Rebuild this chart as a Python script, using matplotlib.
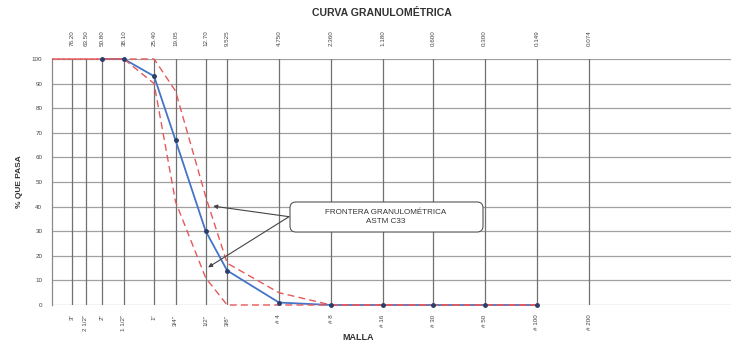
import matplotlib
matplotlib.use("Agg")
import matplotlib.pyplot as plt
from matplotlib.patches import FancyBboxPatch
from matplotlib.transforms import IdentityTransform
import numpy as np

plt.rcParams['font.family'] = ['Liberation Sans', 'DejaVu Sans']

# Sieve openings (mm) and their designations
sieve_mm = [76.20, 63.50, 50.80, 38.10, 25.40, 19.05, 12.70, 9.525,
            4.750, 2.360, 1.180, 0.600, 0.300, 0.149, 0.074]
sieve_mm_labels = ["76.20", "63.50", "50.80", "38.10", "25.40", "19.05", "12.70", "9.525",
                   "4.750", "2.360", "1.180", "0.600", "0.300", "0.149", "0.074"]
sieve_names = ['3"', '2 1/2"', '2"', '1 1/2"', '1"', '3/4"', '1/2"', '3/8"',
               '# 4', '# 8', '# 16', '# 30', '# 50', '# 100', '# 200']

# Measured gradation (% passing)
sample_mm = [50.80, 38.10, 25.40, 19.05, 12.70, 9.525, 4.750, 2.360, 1.180, 0.600, 0.300, 0.149]
sample_pass = [100, 100, 93, 67, 30, 14, 1, 0, 0, 0, 0, 0]

# ASTM C33 gradation envelope
upper_mm = [100.0, 38.10, 25.40, 19.05, 12.70, 9.525, 4.750, 2.360, 1.180, 0.600, 0.300, 0.149]
upper_pass = [100, 100, 100, 87, 44, 17, 5, 0, 0, 0, 0, 0]
lower_mm = [100.0, 50.80, 38.10, 25.40, 19.05, 12.70, 9.525, 4.750, 2.360, 1.180, 0.600, 0.300, 0.149]
lower_pass = [100, 100, 100, 90, 42, 11, 0, 0, 0, 0, 0, 0, 0]

y_ticks = list(range(0, 101, 10))

W, H = 731, 342
fig = plt.figure(figsize=(W / 100, H / 100), dpi=100)
ax = fig.add_axes([52 / W, 37 / H, 679 / W, 246 / H])

ax.set_xscale('log')
ax.set_xlim(100, 0.011)
ax.set_ylim(0, 100)

# grid
for y in y_ticks:
    ax.axhline(y, color='#a0a0a0', lw=0.9, zorder=1)
for s in sieve_mm:
    ax.axvline(s, color='#707070', lw=0.9, zorder=1)

# sample curve
ax.plot(sample_mm, sample_pass, color='#4474c8', lw=1.3, zorder=3, clip_on=False)

# envelope (dash phases offset so shared stretches read as a continuous line)
ax.plot(upper_mm, upper_pass, color='#e8585a', lw=1.0, ls=(0, (5, 3)), zorder=4, clip_on=False)
ax.plot(lower_mm, lower_pass, color='#e8585a', lw=1.0, ls=(4, (5, 3)), zorder=4, clip_on=False)

# sample points
ax.plot(sample_mm, sample_pass, ls='none', marker='o', ms=2.5,
        mfc='#2a3f6a', mec='#2a3f6a', zorder=5, clip_on=False)

ax.set_yticks(y_ticks)
ax.set_yticklabels([str(v) for v in y_ticks], fontsize=4.5, color='#444444')
ax.set_xticks(sieve_mm)
ax.set_xticklabels(sieve_names, rotation=90, fontsize=4.5, color='#444444', va='top')
ax.xaxis.set_minor_locator(matplotlib.ticker.NullLocator())
ax.tick_params(axis='both', length=0)
ax.tick_params(axis='x', pad=7)
ax.tick_params(axis='y', pad=7)

top = ax.secondary_xaxis('top')
top.set_xticks(sieve_mm)
top.set_xticklabels(sieve_mm_labels, rotation=90, fontsize=4.5, color='#444444')
top.xaxis.set_minor_locator(matplotlib.ticker.NullLocator())
top.tick_params(length=0, pad=9)
for sp in top.spines.values():
    sp.set_visible(False)

for name, sp in ax.spines.items():
    sp.set_visible(name == 'left')
ax.spines['left'].set_color('#8a8a8a')
ax.spines['left'].set_linewidth(0.9)

ax.set_ylabel('% QUE PASA', fontsize=6, fontweight='bold', color='#333333', labelpad=6)
fig.text(358 / W, 1 - 337 / H, 'MALLA', ha='center', va='center',
         fontsize=6.5, fontweight='bold', color='#333333')
fig.text(382 / W, 1 - 13 / H, 'CURVA GRANULOMÉTRICA', ha='center', va='center',
         fontsize=7.6, fontweight='bold', color='#333333')

# envelope callout box (pixel coordinates)
box = FancyBboxPatch((290, H - 232), 193, 30, boxstyle='round,pad=0,rounding_size=6',
                     transform=IdentityTransform(), fc='white', ec='#555555', lw=0.8, zorder=6)
fig.add_artist(box)
fig.text(386 / W, 1 - 217 / H, 'FRONTERA GRANULOMÉTRICA\nASTM C33', ha='center', va='center',
         fontsize=5.8, color='#333333', linespacing=1.5, zorder=7)
for tx, ty in [(11.5, 40.2), (12.3, 15.3)]:
    ax.annotate('', xy=(tx, ty), xytext=(4.15, 35.9),
                arrowprops=dict(arrowstyle='-|>', color='#444444', lw=0.8,
                                mutation_scale=6, shrinkA=0, shrinkB=0), zorder=6)

fig.savefig('out.png', dpi=100)
